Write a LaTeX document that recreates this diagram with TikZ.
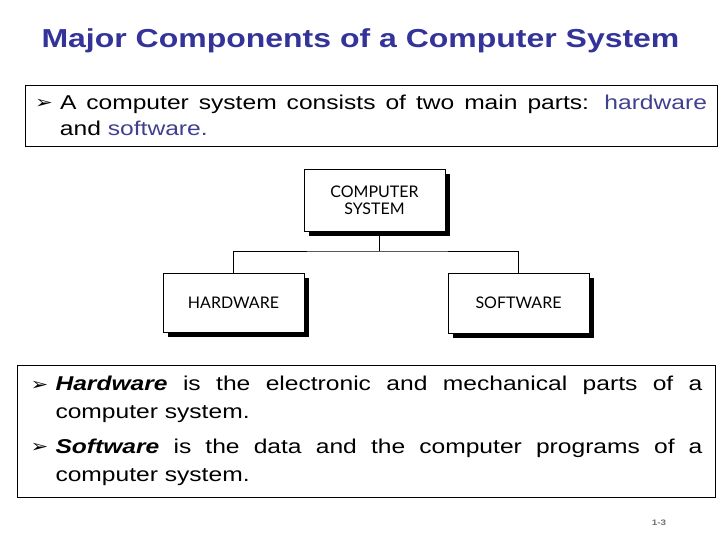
\documentclass[tikz,border=0pt]{standalone}
\usepackage{fontspec}
\setmainfont[FakeStretch=1.23]{Liberation Sans}
\newfontfamily\symfont[FakeStretch=1.22]{DejaVu Sans}
\newfontfamily\boxfont{Lato}
\usetikzlibrary{positioning,shadows}

\definecolor{titleblue}{RGB}{51,51,153}
\definecolor{wordblue}{RGB}{64,64,144}
\definecolor{pagegray}{RGB}{110,110,120}

\hyphenpenalty=10000
\exhyphenpenalty=10000
\tolerance=9999

\newcommand{\pointitem}[1]{\noindent\makebox[18.75pt][l]{\raisebox{0.5pt}{\symfont\fontsize{13}{13}\selectfont ➢}}%
  \parbox[t]{485.25pt}{\leftskip=0pt\rightskip=0pt\parfillskip=0pt plus 1fil
    \spaceskip=0pt\xspaceskip=0pt #1}}

\begin{document}
\begin{tikzpicture}[x=0.75pt, y=-0.75pt, line width=0.75pt,
  textbox/.style={draw, align=left, text width=504pt,
    font=\fontsize{15}{19.5}\selectfont},
  partbox/.style={draw, fill=white, inner sep=2pt, align=center,
    minimum width=105.75pt,
    font=\boxfont\fontsize{12}{13}\selectfont,
    drop shadow={shadow xshift=3.75pt, shadow yshift=-3.75pt,
      opacity=1, fill=black}},
]
\useasboundingbox (0,0) rectangle (728,546);

% Title
\node[anchor=base, text=titleblue, font=\bfseries\fontsize{19.5}{23}\selectfont]
  (title) at (360.5,47) {Major Components of a Computer System};

% Top statement
\node[textbox, inner xsep=7.5pt, minimum height=45.75pt] (intro) at (371,115.5)
  {\pointitem{A computer system consists of two main parts:
   \textcolor{wordblue}{hardware} and \textcolor{wordblue}{software.}}};

% Tree
\node[partbox, minimum height=46.5pt] (cs) at (374.5,200) {COMPUTER\\SYSTEM};
\node[partbox, minimum height=44.25pt] (hw) at (233.5,302.5) {HARDWARE};
\node[partbox, minimum height=45pt] (sw) at (518.5,303) {SOFTWARE};

\coordinate (split) at (379,251);
\draw (cs.south -| split) -- (split);
\draw (hw.north) |- (split) -| (sw.north);

% Definitions
\node[textbox, inner xsep=10.1pt, minimum height=99pt,
  font=\fontsize{15}{21}\selectfont] (defs) at (366.5,431)
  {\pointitem{\textbf{\itshape Hardware} is the electronic and mechanical parts of a computer system.}\par
   \vspace{11pt}
   \pointitem{\textbf{\itshape Software} is the data and the computer programs of a computer system.}};

% Page number
\node[text=pagegray, font=\bfseries\fontsize{6}{7}\selectfont] (pageno) at (659,523) {1-3};

\end{tikzpicture}
\end{document}
